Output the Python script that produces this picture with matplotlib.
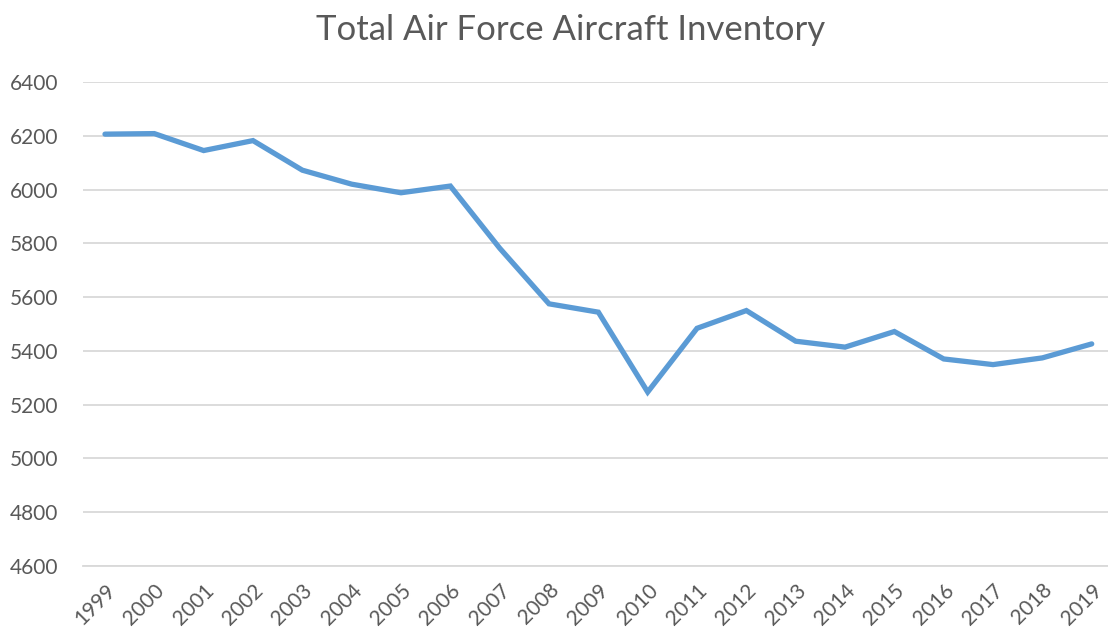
import matplotlib.pyplot as plt

years = list(range(1999, 2020))
inventory = [6206, 6208, 6145, 6182, 6072, 6020, 5988, 6013, 5782, 5575, 5544,
             5247, 5484, 5550, 5436, 5414, 5472, 5370, 5349, 5374, 5426]
y_ticks = list(range(4600, 6401, 200))

plt.rcParams['font.family'] = ['Lato', 'DejaVu Sans']

fig = plt.figure(figsize=(11.08, 6.33), dpi=100)
ax = fig.add_axes([0.0749, 0.1058, 0.9251, 0.7647])

ax.plot(years, inventory, color='#5B9BD5', linewidth=3.8, solid_capstyle='round',
        solid_joinstyle='miter', zorder=3)

ax.set_ylim(4600, 6400)
ax.set_xlim(1999 - 0.446, 2019 + 0.33)
ax.set_yticks(y_ticks)
ax.set_xticks(years)
ax.set_xticklabels([str(y) for y in years], rotation=45, ha='right',
                   rotation_mode='anchor')

ax.grid(axis='y', color='#D9D9D9', linewidth=1.3, zorder=0)
for s in ['top', 'right', 'left']:
    ax.spines[s].set_visible(False)
ax.spines['bottom'].set_color('#D9D9D9')
ax.spines['bottom'].set_linewidth(1.3)
ax.tick_params(axis='both', length=0, labelsize=15, labelcolor='#595959')
ax.tick_params(axis='y', pad=18)
ax.tick_params(axis='x', pad=10)

fig.suptitle('Total Air Force Aircraft Inventory', x=0.515, y=0.978, va='top',
             fontsize=25, color='#595959')

fig.savefig('out.png', dpi=100)
